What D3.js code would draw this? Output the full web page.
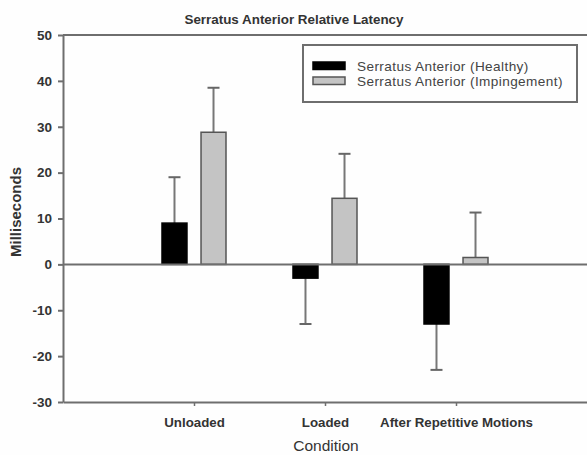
<!DOCTYPE html>
<html>
<head>
<meta charset="utf-8">
<script src="https://cdn.jsdelivr.net/npm/d3@7"></script>
<style>
  body { margin: 0; background: #fefefe; }
  svg { display: block; font-family: "Liberation Sans", Arial, sans-serif; }
</style>
</head>
<body>
<svg id="chart" width="587" height="455"></svg>
<script>
// chart data
const conditions = ["Unloaded", "Loaded", "After Repetitive Motions"];
const seriesNames = ["Serratus Anterior (Healthy)", "Serratus Anterior (Impingement)"];
const healthy = [9, -3, -13];
const healthyErr = [10, 10, 10];
const impingement = [28.8, 14.4, 1.5];
const impingementErr = [9.7, 9.7, 9.8];
const yTicks = [-30, -20, -10, 0, 10, 20, 30, 40, 50];

const svg = d3.select("#chart");
const plotLeft = 63, plotRight = 587, plotTop = 35, plotBottom = 402;
const lineColor = "#6e6e6e";

const x = d3.scalePoint().domain(conditions).range([plotLeft, plotRight]).padding(1);
const xSub = d3.scaleBand().domain(seriesNames).range([-32, 32]).paddingInner(0.36);
const y = d3.scaleLinear().domain([-30, 50]).range([plotBottom, plotTop]);

const fills = ["#000000", "#c4c4c4"];
const strokes = ["#000000", "#555555"];

// title
svg.append("text")
  .attr("x", 294).attr("y", 24)
  .attr("text-anchor", "middle")
  .attr("font-size", 13.4).attr("font-weight", "bold")
  .attr("fill", "#333")
  .text("Serratus Anterior Relative Latency");

// top frame
svg.append("line")
  .attr("x1", plotLeft).attr("x2", plotRight)
  .attr("y1", plotTop).attr("y2", plotTop)
  .attr("stroke", lineColor).attr("stroke-width", 2);

// y axis
const yAxis = svg.append("g")
  .attr("transform", `translate(${plotLeft},0)`)
  .call(d3.axisLeft(y).tickValues(yTicks).tickFormat(d => String(d))
    .tickSize(5).tickSizeOuter(0).tickPadding(6));
yAxis.selectAll("text").attr("font-size", 13.5).attr("font-weight", "bold").attr("fill", "#333");
yAxis.selectAll("line, path").attr("stroke", lineColor).attr("stroke-width", 2);

// x axis
const xAxis = svg.append("g")
  .attr("transform", `translate(0,${plotBottom})`)
  .call(d3.axisBottom(x).tickSize(4).tickSizeOuter(0).tickPadding(12));
xAxis.selectAll("text").attr("font-size", 13.3).attr("font-weight", "bold").attr("fill", "#333");
xAxis.selectAll("line").attr("stroke", lineColor).attr("stroke-width", 1.5);
xAxis.select(".domain").attr("stroke", lineColor).attr("stroke-width", 2);

// bars
const rows = conditions.flatMap((c, i) => [
  { cond: c, s: 0, v: healthy[i], e: healthyErr[i] },
  { cond: c, s: 1, v: impingement[i], e: impingementErr[i] }
]);

const groups = svg.append("g").selectAll("g")
  .data(rows).enter().append("g")
  .attr("transform", d => `translate(${x(d.cond) + xSub(seriesNames[d.s])},0)`);

// error bars
const errEnd = d => y(d.v + Math.sign(d.v) * d.e);
groups.append("line")
  .attr("x1", xSub.bandwidth() / 2).attr("x2", xSub.bandwidth() / 2)
  .attr("y1", d => y(d.v))
  .attr("y2", errEnd)
  .attr("stroke", "#777").attr("stroke-width", 2);
groups.append("line")
  .attr("x1", xSub.bandwidth() / 2 - 6).attr("x2", xSub.bandwidth() / 2 + 6)
  .attr("y1", errEnd).attr("y2", errEnd)
  .attr("stroke", "#666").attr("stroke-width", 2);

groups.append("rect")
  .attr("x", 0)
  .attr("width", xSub.bandwidth())
  .attr("y", d => y(Math.max(0, d.v)))
  .attr("height", d => Math.abs(y(d.v) - y(0)))
  .attr("fill", d => fills[d.s])
  .attr("stroke", d => strokes[d.s]).attr("stroke-width", 1.5);

// zero line
svg.append("line")
  .attr("x1", plotLeft).attr("x2", plotRight)
  .attr("y1", y(0)).attr("y2", y(0))
  .attr("stroke", lineColor).attr("stroke-width", 2);

// axis titles
svg.append("text")
  .attr("transform", "translate(21,212) rotate(-90)")
  .attr("text-anchor", "middle")
  .attr("font-size", 15).attr("font-weight", "bold").attr("fill", "#333")
  .text("Milliseconds");
svg.append("text")
  .attr("x", 326).attr("y", 451)
  .attr("text-anchor", "middle")
  .attr("font-size", 15.5).attr("fill", "#333")
  .text("Condition");

// legend
const legend = svg.append("g");
legend.append("rect")
  .attr("x", 303).attr("y", 45).attr("width", 274).attr("height", 57)
  .attr("fill", "#fefefe").attr("stroke", lineColor).attr("stroke-width", 2);
const items = legend.selectAll("g.item").data(seriesNames).enter().append("g")
  .attr("class", "item")
  .attr("transform", (d, i) => `translate(313,${62 + i * 15})`);
items.append("rect")
  .attr("width", 32).attr("height", 7.5)
  .attr("fill", (d, i) => fills[i])
  .attr("stroke", (d, i) => strokes[i]).attr("stroke-width", 1.5);
items.append("text")
  .attr("x", 44).attr("y", 8.5)
  .attr("font-size", 13.6).attr("letter-spacing", 0.4).attr("fill", "#444")
  .text(d => d);
</script>
</body>
</html>
